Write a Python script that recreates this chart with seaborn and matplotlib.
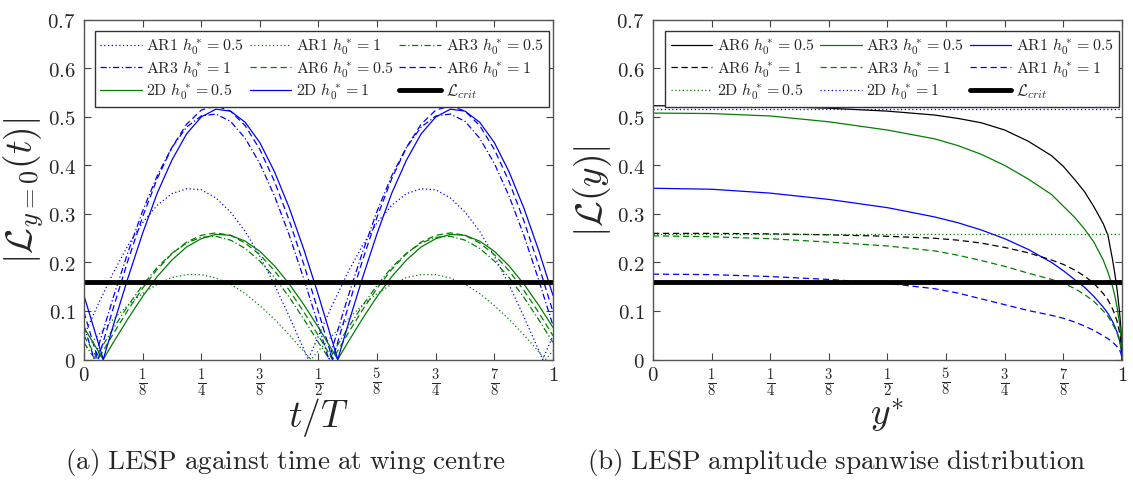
import numpy as np
import pandas as pd
import matplotlib
matplotlib.use("Agg")
import matplotlib.pyplot as plt
import seaborn as sns

# ---------------- data: panel (a) ----------------
t_grid = [i / 32 for i in range(33)]
L_CRIT = 0.16

ar1_h05_t = [0.049, 0.116, 0.179, 0.235, 0.282, 0.318, 0.342, 0.352, 0.350, 0.333, 0.304, 0.264, 0.213, 0.154, 0.089, 0.021,
             0.049, 0.116, 0.179, 0.235, 0.282, 0.318, 0.342, 0.352, 0.350, 0.333, 0.304, 0.264, 0.213, 0.154, 0.089, 0.021, 0.049]
ar1_h05_zero = [0.478, 0.978]
ar1_h1_t = [0.018, 0.051, 0.083, 0.112, 0.136, 0.155, 0.169, 0.175, 0.175, 0.168, 0.155, 0.136, 0.111, 0.083, 0.051, 0.017,
            0.018, 0.051, 0.083, 0.112, 0.136, 0.155, 0.169, 0.175, 0.175, 0.168, 0.155, 0.136, 0.111, 0.083, 0.051, 0.017, 0.018]
ar1_h1_zero = [0.484, 0.984]
ar3_h05_t = [0.035, 0.015, 0.064, 0.111, 0.153, 0.190, 0.219, 0.240, 0.252, 0.254, 0.246, 0.229, 0.203, 0.169, 0.129, 0.083,
             0.035, 0.015, 0.064, 0.111, 0.153, 0.190, 0.219, 0.240, 0.252, 0.254, 0.246, 0.229, 0.203, 0.169, 0.129, 0.083, 0.035]
ar3_h05_zero = [0.024, 0.524]
ar3_h1_t = [0.070, 0.029, 0.128, 0.221, 0.306, 0.379, 0.437, 0.479, 0.502, 0.506, 0.491, 0.456, 0.404, 0.337, 0.257, 0.166,
            0.070, 0.029, 0.128, 0.221, 0.306, 0.379, 0.437, 0.479, 0.502, 0.506, 0.491, 0.456, 0.404, 0.337, 0.257, 0.166, 0.070]
ar3_h1_zero = [0.022, 0.522]
ar6_h05_t = [0.049, 0.002, 0.053, 0.102, 0.147, 0.186, 0.218, 0.242, 0.256, 0.261, 0.256, 0.240, 0.216, 0.183, 0.143, 0.098,
             0.049, 0.002, 0.053, 0.102, 0.147, 0.186, 0.218, 0.242, 0.256, 0.261, 0.256, 0.240, 0.216, 0.183, 0.143, 0.098, 0.049]
ar6_h05_zero = [0.030, 0.530]
ar6_h1_t = [0.098, 0.004, 0.106, 0.204, 0.294, 0.373, 0.437, 0.485, 0.514, 0.523, 0.512, 0.482, 0.433, 0.367, 0.287, 0.196,
            0.098, 0.004, 0.106, 0.204, 0.294, 0.373, 0.437, 0.485, 0.514, 0.523, 0.512, 0.482, 0.433, 0.367, 0.287, 0.196, 0.098]
ar6_h1_zero = [0.030, 0.530]
d2_h05_t = [0.066, 0.016, 0.035, 0.084, 0.130, 0.171, 0.205, 0.232, 0.249, 0.258, 0.256, 0.244, 0.223, 0.193, 0.156, 0.113,
            0.066, 0.016, 0.035, 0.084, 0.130, 0.171, 0.205, 0.232, 0.249, 0.258, 0.256, 0.244, 0.223, 0.193, 0.156, 0.113, 0.066]
d2_h05_zero = [0.041, 0.541]
d2_h1_t = [0.132, 0.032, 0.070, 0.168, 0.260, 0.343, 0.411, 0.465, 0.500, 0.516, 0.512, 0.489, 0.447, 0.387, 0.313, 0.227,
           0.132, 0.032, 0.070, 0.168, 0.260, 0.343, 0.411, 0.465, 0.500, 0.516, 0.512, 0.489, 0.447, 0.387, 0.313, 0.227, 0.132]
d2_h1_zero = [0.041, 0.541]

# ---------------- data: panel (b) ----------------
y_grid = [0, 0.125, 0.25, 0.375, 0.5, 0.6, 0.65, 0.7, 0.75, 0.8, 0.85, 0.875, 0.9, 0.92, 0.94, 0.96,
          0.97, 0.98, 0.985, 0.99, 0.995, 0.998, 1.0]
ar6_h05_y = [0.523, 0.523, 0.522, 0.518, 0.512, 0.504, 0.497, 0.488, 0.473, 0.450, 0.420, 0.398, 0.370, 0.346,
             0.315, 0.280, 0.256, 0.205, 0.175, 0.140, 0.095, 0.060, 0.0]
ar3_h05_y = [0.508, 0.507, 0.502, 0.490, 0.473, 0.455, 0.441, 0.423, 0.400, 0.372, 0.340, 0.316, 0.292, 0.269,
             0.242, 0.205, 0.180, 0.150, 0.130, 0.105, 0.072, 0.045, 0.0]
ar1_h05_y = [0.353, 0.351, 0.343, 0.330, 0.313, 0.294, 0.282, 0.267, 0.249, 0.227, 0.200, 0.183, 0.164, 0.149,
             0.130, 0.108, 0.095, 0.078, 0.067, 0.055, 0.038, 0.024, 0.0]
ar6_h1_y = [0.260, 0.260, 0.259, 0.257, 0.254, 0.250, 0.246, 0.240, 0.231, 0.220, 0.205, 0.196, 0.184, 0.172,
            0.157, 0.136, 0.123, 0.104, 0.092, 0.077, 0.054, 0.035, 0.0]
ar3_h1_y = [0.255, 0.253, 0.249, 0.242, 0.234, 0.224, 0.215, 0.204, 0.192, 0.178, 0.165, 0.157, 0.146, 0.134,
            0.120, 0.100, 0.089, 0.073, 0.064, 0.053, 0.037, 0.024, 0.0]
ar1_h1_y = [0.176, 0.175, 0.171, 0.165, 0.157, 0.146, 0.137, 0.125, 0.113, 0.101, 0.091, 0.085, 0.077, 0.069,
            0.060, 0.049, 0.043, 0.036, 0.031, 0.026, 0.019, 0.012, 0.0]
y_2d = [0.0, 1.0]
d2_h05_y = [0.258, 0.258]
d2_h1_y = [0.517, 0.517]

x_ticks = [0, 1/8, 1/4, 3/8, 1/2, 5/8, 3/4, 7/8, 1]
x_tick_labels = [r"$0$", r"$\frac{1}{8}$", r"$\frac{1}{4}$", r"$\frac{3}{8}$", r"$\frac{1}{2}$",
                 r"$\frac{5}{8}$", r"$\frac{3}{4}$", r"$\frac{7}{8}$", r"$1$"]
y_ticks = [0, 0.1, 0.2, 0.3, 0.4, 0.5, 0.6, 0.7]
y_tick_labels = [r"$0$", r"$0.1$", r"$0.2$", r"$0.3$", r"$0.4$", r"$0.5$", r"$0.6$", r"$0.7$"]

# ---------------- style ----------------
sns.set_theme(style="ticks")
plt.rcParams['font.family'] = ['DejaVu Serif']
plt.rcParams['mathtext.fontset'] = 'cm'

BLUE = "#0000ff"
GREEN = "#007f00"
BLACK = "#000000"
DASH = (5, 3)
DASHDOT = (5, 2, 1, 2)
DOT = (1, 2)


def with_zeros(tg, vals, zeros):
    df = pd.DataFrame({"x": list(tg) + list(zeros), "v": list(vals) + [0.0] * len(zeros)})
    return df.sort_values("x").reset_index(drop=True)


def line(ax, x, y, color, dashes, lw, label):
    df = pd.DataFrame({"x": list(x), "v": list(y)})
    sns.lineplot(data=df, x="x", y="v", ax=ax, color=color, lw=lw,
                 estimator=None, sort=False, legend=False)
    ln = ax.get_lines()[-1]
    if dashes is None:
        ln.set_linestyle("-")
    else:
        ln.set_dashes(dashes)
    ln.set_label(label)
    return ln


def lab(name, h):
    return r"$\mathrm{" + name + r"}\ h_0^* = " + h + r"$"


fig = plt.figure(figsize=(11.33, 4.81), dpi=100)
axL = fig.add_axes([0.0741, 0.2505, 0.414, 0.706])
axR = fig.add_axes([0.5763, 0.2505, 0.414, 0.706])

# ---- panel a ----
hA = {}
for key, vals, zeros, col, ds, name, h in [
    ("a1", ar1_h05_t, ar1_h05_zero, BLUE, DOT, "AR1", "0.5"),
    ("a2", ar1_h1_t, ar1_h1_zero, GREEN, DOT, "AR1", "1"),
    ("a3", ar3_h05_t, ar3_h05_zero, GREEN, DASHDOT, "AR3", "0.5"),
    ("a4", ar3_h1_t, ar3_h1_zero, BLUE, DASHDOT, "AR3", "1"),
    ("a5", ar6_h05_t, ar6_h05_zero, GREEN, DASH, "AR6", "0.5"),
    ("a6", ar6_h1_t, ar6_h1_zero, BLUE, DASH, "AR6", "1"),
    ("a7", d2_h05_t, d2_h05_zero, GREEN, None, "2D", "0.5"),
    ("a8", d2_h1_t, d2_h1_zero, BLUE, None, "2D", "1"),
]:
    df = with_zeros(t_grid, vals, zeros)
    hA[key] = line(axL, df["x"], df["v"], col, ds, 0.9, lab(name, h))
hA["crit"] = line(axL, [0, 1], [L_CRIT, L_CRIT], BLACK, None, 3.5, r"$\mathcal{L}_{crit}$")

# ---- panel b ----
hB = {}
for key, xs, vals, col, ds, name, h in [
    ("b1", y_grid, ar6_h05_y, BLACK, None, "AR6", "0.5"),
    ("b2", y_grid, ar3_h05_y, GREEN, None, "AR3", "0.5"),
    ("b3", y_grid, ar1_h05_y, BLUE, None, "AR1", "0.5"),
    ("b4", y_grid, ar6_h1_y, BLACK, DASH, "AR6", "1"),
    ("b5", y_grid, ar3_h1_y, GREEN, DASH, "AR3", "1"),
    ("b6", y_grid, ar1_h1_y, BLUE, DASH, "AR1", "1"),
    ("b7", y_2d, d2_h05_y, GREEN, DOT, "2D", "0.5"),
    ("b8", y_2d, d2_h1_y, BLUE, DOT, "2D", "1"),
]:
    hB[key] = line(axR, xs, vals, col, ds, 0.9, lab(name, h))
hB["crit"] = line(axR, [0, 1], [L_CRIT, L_CRIT], BLACK, None, 3.5, r"$\mathcal{L}_{crit}$")

for ax in (axL, axR):
    ax.set_xlim(0, 1)
    ax.set_ylim(0, 0.7)
    ax.set_xticks(x_ticks)
    ax.set_xticklabels(x_tick_labels)
    ax.set_yticks(y_ticks)
    ax.set_yticklabels(y_tick_labels)
    ax.tick_params(direction="in", length=5, width=0.8, color="#444444", labelsize=15,
                   top=True, right=True)
    ax.tick_params(axis="x", pad=4)
    ax.tick_params(axis="y", pad=6)
    for sp in ax.spines.values():
        sp.set_visible(True)
        sp.set_color("#555555")
        sp.set_linewidth(1.0)
    ax.set_facecolor("white")

axL.set_xlabel(r"$t/T$", fontsize=27)
axL.set_ylabel(r"$|\mathcal{L}_{y=0}(t)|$", fontsize=27)
axR.set_xlabel(r"$y^{*}$", fontsize=27)
axR.set_ylabel(r"$|\mathcal{L}(y)|$", fontsize=27)
axL.xaxis.set_label_coords(0.5, -0.105)
axR.xaxis.set_label_coords(0.5, -0.105)
axL.yaxis.set_label_coords(-0.08, 0.5)
axR.yaxis.set_label_coords(-0.083, 0.5)

leg_kw = dict(ncol=3, fontsize=11.5, handlelength=2.6, columnspacing=0.35, handletextpad=0.3,
              labelspacing=0.15, borderpad=0.35, fancybox=False, framealpha=1, edgecolor="#333333",
              loc="upper center", borderaxespad=0)
orderA = ["a1", "a4", "a7", "a2", "a5", "a8", "a3", "a6", "crit"]
lgA = axL.legend([hA[k] for k in orderA], [hA[k].get_label() for k in orderA],
                 bbox_to_anchor=(0.507, 0.968), **leg_kw)
orderB = ["b1", "b4", "b7", "b2", "b5", "b8", "b3", "b6", "crit"]
lgB = axR.legend([hB[k] for k in orderB], [hB[k].get_label() for k in orderB],
                 bbox_to_anchor=(0.51, 0.968), **leg_kw)
for lg in (lgA, lgB):
    lg.get_frame().set_linewidth(1.0)

fig.text(0.252, 0.038, r"$\mathrm{(a)\ LESP\ against\ time\ at\ wing\ centre}$",
         ha="center", va="center", fontsize=19.5)
fig.text(0.738, 0.038, r"$\mathrm{(b)\ LESP\ amplitude\ spanwise\ distribution}$",
         ha="center", va="center", fontsize=19.5)

fig.savefig("out.png", dpi=100, facecolor="white")
